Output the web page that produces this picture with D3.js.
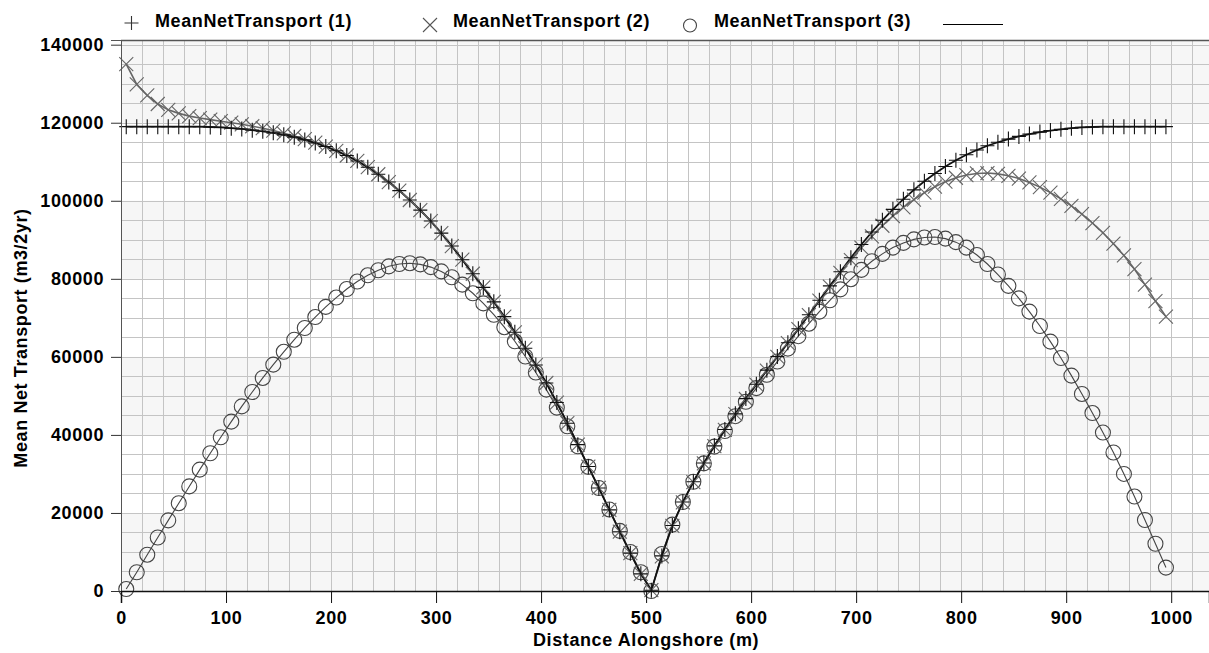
<!DOCTYPE html>
<html>
<head>
<meta charset="utf-8">
<script src="https://cdnjs.cloudflare.com/ajax/libs/d3/7.8.5/d3.min.js"></script>
<style>
    body { margin: 0; background: #fff; }
    text { font-family: 'Liberation Sans', Arial, sans-serif; font-weight: bold; fill: #000; }
</style>
</head>
<body>
<div id="chart"></div>
<script>
    var distance = [5, 15, 25, 35, 45, 55, 65, 75, 85, 95,
        105, 115, 125, 135, 145, 155, 165, 175, 185, 195,
        205, 215, 225, 235, 245, 255, 265, 275, 285, 295,
        305, 315, 325, 335, 345, 355, 365, 375, 385, 395,
        405, 415, 425, 435, 445, 455, 465, 475, 485, 495,
        505, 515, 525, 535, 545, 555, 565, 575, 585, 595,
        605, 615, 625, 635, 645, 655, 665, 675, 685, 695,
        705, 715, 725, 735, 745, 755, 765, 775, 785, 795,
        805, 815, 825, 835, 845, 855, 865, 875, 885, 895,
        905, 915, 925, 935, 945, 955, 965, 975, 985, 995];

    var transport1 = [119000, 119000, 119000, 119000, 119000, 119000, 119000, 119000, 118900, 118800,
        118600, 118400, 118100, 117800, 117400, 116900, 116300, 115600, 114800, 113900,
        112800, 111600, 110200, 108600, 106800, 104800, 102600, 100200, 97600, 94800,
        91700, 88400, 84900, 81300, 77800, 74100, 70300, 66300, 62200, 57900,
        53300, 48300, 43000, 37500, 31900, 26400, 20800, 15200, 9700, 4400,
        200, 9000, 16800, 22800, 28000, 32800, 37200, 41400, 45400, 49300,
        53000, 56600, 60100, 63600, 67200, 70800, 74500, 78200, 81800, 85400,
        88800, 92000, 95000, 97800, 100400, 102800, 105000, 107000, 108800, 110400,
        111800, 113000, 114100, 115000, 115800, 116500, 117100, 117600, 118000, 118300,
        118600, 118800, 118900, 119000, 119000, 119000, 119000, 119000, 119000, 119000];

    var transport2 = [135000, 129800, 127000, 124800, 123300, 122400, 121700, 121200, 120800, 120400,
        120000, 119600, 119100, 118600, 118000, 117300, 116600, 115800, 114900, 113900,
        112800, 111600, 110200, 108600, 106800, 104800, 102600, 100200, 97600, 94800,
        91700, 88400, 84900, 81300, 77800, 74100, 70300, 66300, 62200, 57900,
        53300, 48300, 43000, 37500, 31900, 26400, 20800, 15200, 9700, 4400,
        200, 8900, 16700, 22700, 27900, 32700, 37100, 41300, 45300, 49200,
        52900, 56500, 60000, 63500, 67100, 70700, 74400, 78000, 81500, 84800,
        88000, 90900, 93600, 96100, 98300, 100300, 102100, 103600, 104900, 105900,
        106600, 107000, 107100, 106900, 106400, 105700, 104700, 103500, 102100, 100500,
        98700, 96600, 94300, 91800, 89000, 86000, 82500, 78500, 74300, 70300];

    var transport3 = [500, 4800, 9300, 13700, 18100, 22500, 26800, 31100, 35300, 39400,
        43400, 47300, 51000, 54600, 58000, 61300, 64400, 67400, 70200, 72800,
        75200, 77400, 79300, 80900, 82200, 83200, 83800, 84000, 83700, 83000,
        81900, 80400, 78500, 76300, 73700, 70800, 67600, 64000, 60100, 56000,
        51600, 47000, 42200, 37100, 31800, 26400, 20900, 15400, 10000, 4800,
        0, 9500, 17000, 22800, 28000, 32700, 37000, 41000, 44800, 48500,
        52000, 55400, 58800, 62100, 65300, 68500, 71600, 74500, 77300, 79900,
        82300, 84500, 86400, 88000, 89200, 90100, 90600, 90700, 90300, 89400,
        88000, 86100, 83800, 81100, 78200, 75000, 71600, 67900, 63900, 59700,
        55200, 50500, 45600, 40600, 35500, 30000, 24200, 18200, 12100, 6000];

    var xTicks = [0, 100, 200, 300, 400, 500, 600, 700, 800, 900, 1000];
    var yTicks = [0, 20000, 40000, 60000, 80000, 100000, 120000, 140000];
    var seriesNames = ['MeanNetTransport (1)', 'MeanNetTransport (2)', 'MeanNetTransport (3)'];

    var margin = { top: 40, right: 0, bottom: 62, left: 121 };
    var width = 1209 - margin.left - margin.right,
        height = 653 - margin.top - margin.bottom;

    var xScale = d3.scaleLinear()
        .domain([0, 1036])
        .range([0, width]);

    var yScale = d3.scaleLinear()
        .domain([0, 141200])
        .range([height, 0]);

    var svg = d3.select('#chart')
        .append('svg')
            .attr('width', 1209)
            .attr('height', 653)
            .style('background', '#fff')
            .style('display', 'block');

    var plot = svg.append('g')
        .attr('transform', 'translate(' + margin.left + ', ' + margin.top + ')');

    // alternating bands between the major y ticks
    var bandTops = yTicks.filter(function(d, i) { return i % 2 === 1; });
    plot.selectAll('rect.band')
        .data(bandTops)
        .enter().append('rect')
            .attr('class', 'band')
            .attr('x', 0)
            .attr('width', width)
            .attr('y', function(d) { return yScale(d); })
            .attr('height', function(d) { return yScale(d - 20000) - yScale(d); })
            .style('fill', '#f6f6f6');
    plot.append('rect')
        .attr('x', 0)
        .attr('width', width)
        .attr('y', 0)
        .attr('height', yScale(140000))
        .style('fill', '#f6f6f6');

    // grid
    var vGrid = d3.axisBottom(xScale)
        .tickValues(d3.range(20, 1036, 20))
        .tickSize(-height)
        .tickFormat('');
    var vGridG = plot.append('g')
        .attr('transform', 'translate(0, ' + height + ')');
    vGrid(vGridG);

    var hGrid = d3.axisLeft(yScale)
        .tickValues(d3.range(5000, 141200, 5000))
        .tickSize(-width)
        .tickFormat('');
    var hGridG = plot.append('g');
    hGrid(hGridG);

    [vGridG, hGridG].forEach(function(g) {
        g.select('.domain').remove();
        g.selectAll('line')
            .style('stroke', '#c4c4c4')
            .style('stroke-width', 1)
            .attr('shape-rendering', 'crispEdges');
    });

    // top border
    plot.append('line')
        .attr('x1', 0).attr('x2', width)
        .attr('y1', 0.5).attr('y2', 0.5)
        .style('stroke', '#555')
        .style('stroke-width', 1.5);

    // series lines
    var line = function(values) {
        return d3.line()
            .x(function(d, i) { return xScale(distance[i]); })
            .y(function(d) { return yScale(d); })(values);
    };

    plot.append('path')
        .attr('d', line(transport3))
        .style('fill', 'none')
        .style('stroke', '#444')
        .style('stroke-width', 1.1);

    plot.append('path')
        .attr('d', line(transport2))
        .style('fill', 'none')
        .style('stroke', '#666')
        .style('stroke-width', 1.6);

    plot.append('path')
        .attr('d', line(transport1))
        .style('fill', 'none')
        .style('stroke', '#111')
        .style('stroke-width', 1.8);

    // markers
    plot.selectAll('circle.s3')
        .data(transport3)
        .enter().append('circle')
            .attr('class', 's3')
            .attr('cx', function(d, i) { return xScale(distance[i]); })
            .attr('cy', function(d) { return yScale(d); })
            .attr('r', 7.5)
            .style('fill', 'none')
            .style('stroke', '#444')
            .style('stroke-width', 1.1);

    plot.selectAll('path.s2')
        .data(transport2)
        .enter().append('path')
            .attr('class', 's2')
            .attr('d', 'M-7,-7L7,7M-7,7L7,-7')
            .attr('transform', function(d, i) {
                return 'translate(' + xScale(distance[i]) + ',' + yScale(d) + ')';
            })
            .style('fill', 'none')
            .style('stroke', '#666')
            .style('stroke-width', 1.1);

    plot.selectAll('path.s1')
        .data(transport1)
        .enter().append('path')
            .attr('class', 's1')
            .attr('d', 'M-7,0H7M0,-7.5V7.5')
            .attr('transform', function(d, i) {
                return 'translate(' + xScale(distance[i]) + ',' + yScale(d) + ')';
            })
            .style('fill', 'none')
            .style('stroke', '#111')
            .style('stroke-width', 1.1);

    // axes
    var vAxis = d3.axisLeft(yScale)
        .tickValues(yTicks)
        .tickSize(10)
        .tickPadding(7)
        .tickFormat(d3.format('d'));
    var vGuide = plot.append('g');
    vAxis(vGuide);
    vGuide.select('.domain')
        .style('stroke', '#555');
    vGuide.selectAll('line')
        .style('stroke', '#333');

    var hAxis = d3.axisBottom(xScale)
        .tickValues(xTicks)
        .tickSize(12)
        .tickPadding(8)
        .tickFormat(d3.format('d'));
    var hGuide = plot.append('g')
        .attr('transform', 'translate(0, ' + height + ')');
    hAxis(hGuide);
    hGuide.select('.domain')
        .style('stroke', '#111')
        .style('stroke-width', 1.5);
    hGuide.selectAll('line')
        .style('stroke', '#111');

    svg.selectAll('.tick text')
        .style('font-size', '18px')
        .style('letter-spacing', '0.6px')
        .style('font-family', "'Liberation Sans', Arial, sans-serif")
        .style('font-weight', 'bold')
        .style('fill', '#000');

    // axis titles
    svg.append('text')
        .attr('x', margin.left + xScale(500))
        .attr('y', 646)
        .attr('text-anchor', 'middle')
        .style('font-size', '18px')
        .style('letter-spacing', '0.6px')
        .text('Distance Alongshore (m)');

    svg.append('text')
        .attr('transform', 'translate(27, 338) rotate(-90)')
        .attr('text-anchor', 'middle')
        .style('font-size', '18px')
        .style('letter-spacing', '0.6px')
        .text('Mean Net Transport (m3/2yr)');

    // legend
    var legendX = [131.5, 430, 690];
    var legendTextX = [155, 453, 714];

    var legend = svg.append('g');
    legend.append('path')
        .attr('d', 'M-7,0H7M0,-7V7')
        .attr('transform', 'translate(' + legendX[0] + ',23)')
        .style('stroke', '#333')
        .style('stroke-width', 1.1);
    legend.append('path')
        .attr('d', 'M-7,-7L7,7M-7,7L7,-7')
        .attr('transform', 'translate(' + legendX[1] + ',25)')
        .style('stroke', '#555')
        .style('stroke-width', 1.1);
    legend.append('circle')
        .attr('cx', legendX[2])
        .attr('cy', 25.5)
        .attr('r', 6.5)
        .style('fill', 'none')
        .style('stroke', '#444')
        .style('stroke-width', 1.1);
    legend.append('line')
        .attr('x1', 942.5).attr('x2', 1003)
        .attr('y1', 24.5).attr('y2', 24.5)
        .attr('shape-rendering', 'crispEdges')
        .style('stroke', '#000')
        .style('stroke-width', 1);

    legend.selectAll('text')
        .data(seriesNames)
        .enter().append('text')
            .attr('x', function(d, i) { return legendTextX[i]; })
            .attr('y', 27)
            .style('font-size', '18px')
            .style('letter-spacing', '0.6px')
            .text(function(d) { return d; });
</script>
</body>
</html>
